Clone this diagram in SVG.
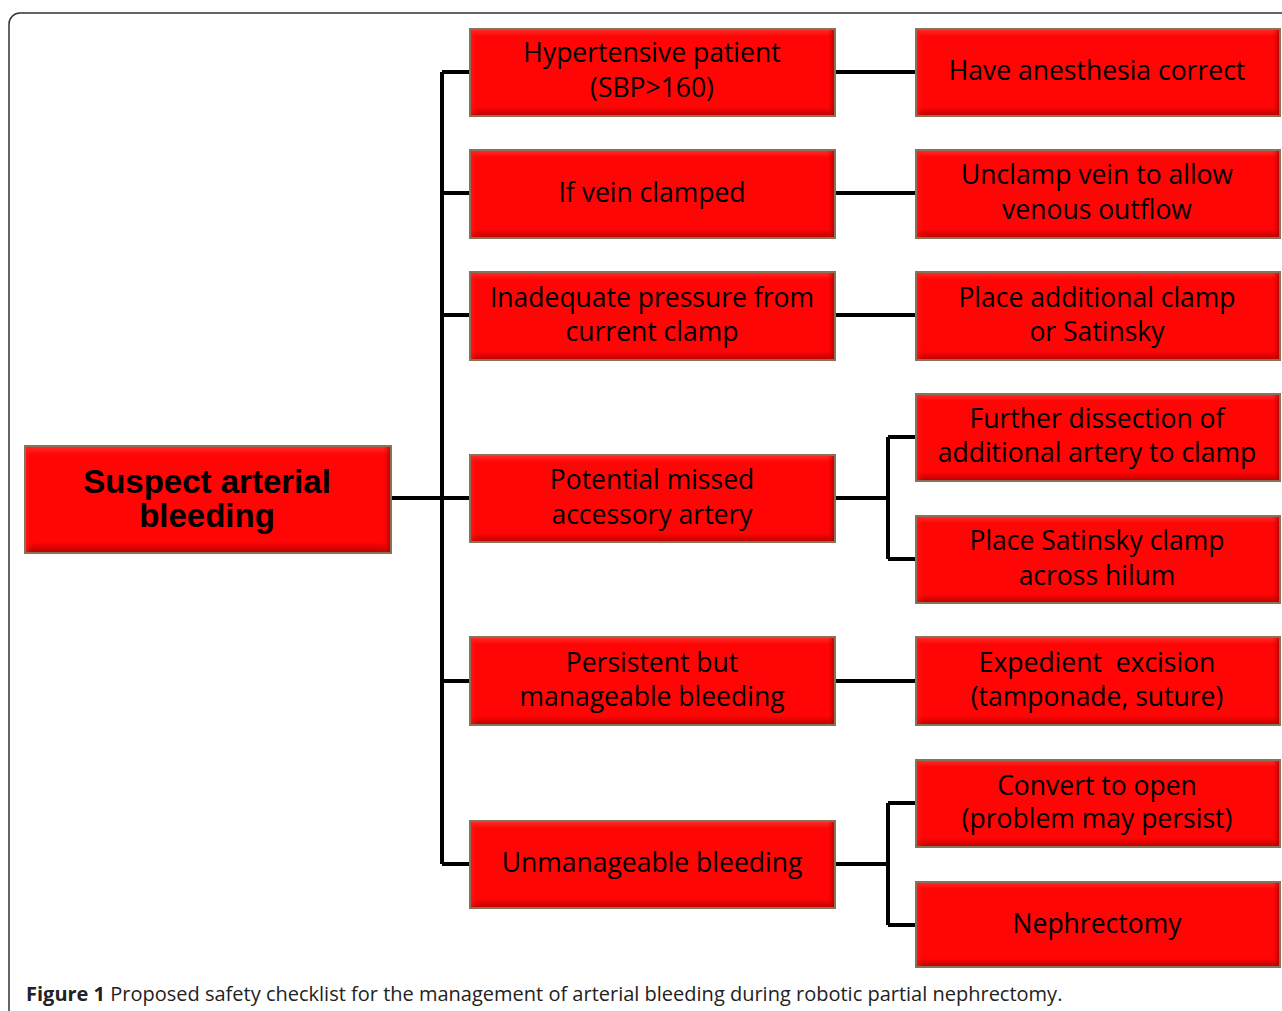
<svg xmlns="http://www.w3.org/2000/svg" width="1282" height="1011" viewBox="0 0 1282 1011">
<defs>
<linearGradient id="g" x1="0" y1="0" x2="0" y2="1">
<stop offset="0" stop-color="#ff3030"/>
<stop offset="0.08" stop-color="#ff0505"/>
<stop offset="0.9" stop-color="#ff0505"/>
<stop offset="1" stop-color="#b80000"/>
</linearGradient>
<linearGradient id="gs" x1="0" y1="0" x2="1" y2="0">
<stop offset="0" stop-color="#ff2020" stop-opacity="0.6"/>
<stop offset="0.02" stop-color="#ff0505" stop-opacity="0"/>
<stop offset="0.98" stop-color="#ff0505" stop-opacity="0"/>
<stop offset="1" stop-color="#a00000" stop-opacity="0.7"/>
</linearGradient>
<style>
.box{fill:url(#g);stroke:#8a7258;stroke-width:2}
.sh{fill:url(#gs)}
.t{font-family:"Open Sans","Liberation Sans",sans-serif;font-size:26.5px;fill:#000;text-anchor:middle}
.tb{font-family:"Liberation Sans",Arial,sans-serif;font-size:33px;font-weight:bold;fill:#000;text-anchor:middle}
.ln{fill:none;stroke:#000;stroke-width:4}
.cap{font-family:"Open Sans","Liberation Sans",sans-serif;font-size:20px;fill:#222}
</style>
</defs>
<rect width="1282" height="1011" fill="#fff"/>
<path d="M9,1011 V24 A11,11 0 0 1 20,13 H1282" fill="none" stroke="#333" stroke-width="1.5"/>
<g id="connectors">
<path class="ln" d="M442,72 V864"/>
<path class="ln" d="M442,72 H470 M442,193 H470 M442,315 H470 M442,498 H470 M442,681 H470 M442,864 H470"/>
<path class="ln" d="M391,498 H442"/>
<path class="ln" d="M835,72 H916 M835,193 H916 M835,315 H916 M835,681 H916"/>
<path class="ln" d="M835,498 H888 M888,437 V559 M888,437 H916 M888,559 H916"/>
<path class="ln" d="M835,864 H888 M888,803 V925 M888,803 H916 M888,925 H916"/>
</g>
<g id="n0"><rect class="box" x="25" y="446" width="366" height="107"/><rect class="sh" x="26" y="447" width="364" height="105"/>
<text class="tb" x="207" y="493">Suspect arterial</text><text class="tb" x="207" y="527">bleeding</text></g>
<g id="n1"><rect class="box" x="470" y="29" width="365" height="87"/><rect class="sh" x="471" y="30" width="363" height="85"/>
<text class="t" x="652" y="62">Hypertensive patient</text><text class="t" x="652" y="97">(SBP&gt;160)</text></g>
<g id="n2"><rect class="box" x="916" y="29" width="364" height="87"/><rect class="sh" x="917" y="30" width="362" height="85"/>
<text class="t" x="1097" y="80">Have anesthesia correct</text></g>
<g id="n3"><rect class="box" x="470" y="150" width="365" height="88"/><rect class="sh" x="471" y="151" width="363" height="86"/>
<text class="t" x="652" y="202">If vein clamped</text></g>
<g id="n4"><rect class="box" x="916" y="150" width="364" height="88"/><rect class="sh" x="917" y="151" width="362" height="86"/>
<text class="t" x="1097" y="184">Unclamp vein to allow</text><text class="t" x="1097" y="219">venous outflow</text></g>
<g id="n5"><rect class="box" x="470" y="272" width="365" height="88"/><rect class="sh" x="471" y="273" width="363" height="86"/>
<text class="t" x="652" y="307">Inadequate pressure from</text><text class="t" x="652" y="341">current clamp</text></g>
<g id="n6"><rect class="box" x="916" y="272" width="364" height="88"/><rect class="sh" x="917" y="273" width="362" height="86"/>
<text class="t" x="1097" y="307">Place additional clamp</text><text class="t" x="1097" y="341">or Satinsky</text></g>
<g id="n7"><rect class="box" x="470" y="455" width="365" height="87"/><rect class="sh" x="471" y="456" width="363" height="85"/>
<text class="t" x="652" y="489">Potential missed</text><text class="t" x="652" y="524">accessory artery</text></g>
<g id="n8"><rect class="box" x="916" y="394" width="364" height="87"/><rect class="sh" x="917" y="395" width="362" height="85"/>
<text class="t" x="1097" y="428">Further dissection of</text><text class="t" x="1097" y="462">additional artery to clamp</text></g>
<g id="n9"><rect class="box" x="916" y="516" width="364" height="87"/><rect class="sh" x="917" y="517" width="362" height="85"/>
<text class="t" x="1097" y="550">Place Satinsky clamp</text><text class="t" x="1097" y="585">across hilum</text></g>
<g id="n10"><rect class="box" x="470" y="637" width="365" height="88"/><rect class="sh" x="471" y="638" width="363" height="86"/>
<text class="t" x="652" y="672">Persistent but</text><text class="t" x="652" y="706">manageable bleeding</text></g>
<g id="n11"><rect class="box" x="916" y="637" width="364" height="88"/><rect class="sh" x="917" y="638" width="362" height="86"/>
<text class="t" x="1097" y="672" xml:space="preserve">Expedient  excision</text><text class="t" x="1097" y="706">(tamponade, suture)</text></g>
<g id="n12"><rect class="box" x="470" y="821" width="365" height="87"/><rect class="sh" x="471" y="822" width="363" height="85"/>
<text class="t" x="652" y="872">Unmanageable bleeding</text></g>
<g id="n13"><rect class="box" x="916" y="760" width="364" height="87"/><rect class="sh" x="917" y="761" width="362" height="85"/>
<text class="t" x="1097" y="795">Convert to open</text><text class="t" x="1097" y="828">(problem may persist)</text></g>
<g id="n14"><rect class="box" x="916" y="882" width="364" height="85"/><rect class="sh" x="917" y="883" width="362" height="83"/>
<text class="t" x="1097" y="933">Nephrectomy</text></g>
<text class="cap" x="26" y="1001"><tspan font-weight="bold">Figure 1</tspan> Proposed safety checklist for the management of arterial bleeding during robotic partial nephrectomy.</text>
</svg>
